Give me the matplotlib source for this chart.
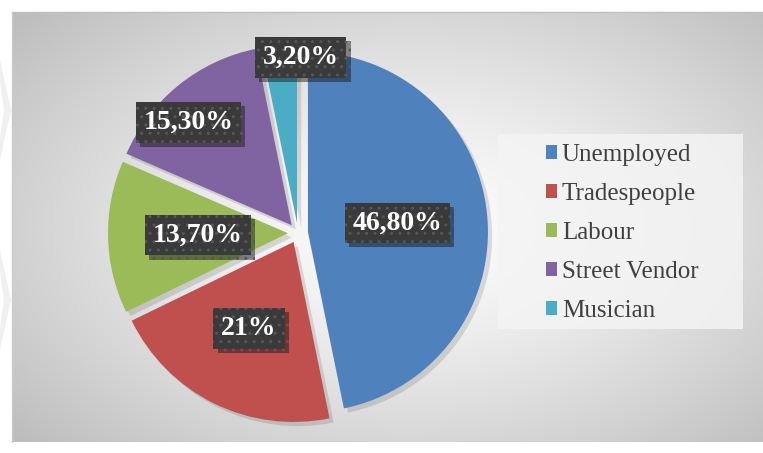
import numpy as np
import matplotlib
matplotlib.use("Agg")
import matplotlib.pyplot as plt
import matplotlib.patheffects as pe
from matplotlib.patches import Rectangle, Polygon

categories = ["Unemployed", "Tradespeople", "Labour", "Street Vendor", "Musician"]
shares = [46.8, 21.0, 13.7, 15.3, 3.2]
colors = ["#4f81bd", "#c0504d", "#9bbb59", "#8064a2", "#4bacc6"]

W, H = 763, 453


def fmt_pct(v):
    if float(v).is_integer():
        return "%d%%" % v
    return ("%.2f%%" % v).replace(".", ",")


def Y(y):
    # picture rows run downwards, axes y runs upwards
    return H - y


fig = plt.figure(figsize=(W / 100, H / 100), dpi=100)
ax = fig.add_axes([0, 0, 1, 1])

# faint watermark chevrons in the left margin
for y0 in [60, 250]:
    ax.add_patch(Polygon([(0, Y(y0)), (11, Y(y0 + 50)), (0, Y(y0 + 100)), (0, Y(y0 + 78)),
                          (4, Y(y0 + 50)), (0, Y(y0 + 22))], closed=True,
                         fc="#f0f0f0", ec="none", zorder=0))

# chart area background: elliptical radial gradient
x0, x1, y0, y1 = 12, 763, 12, 442
xs = np.linspace(x0, x1, 400)
ys = np.linspace(y0, y1, 240)
gx, gy = np.meshgrid(xs, ys)
cx, cy = 410, 228
n = np.sqrt(((gx - cx) / 360) ** 2 + ((gy - cy) / 215) ** 2)
v = np.clip(1 - 0.16 * n ** 1.25, 0, 1)
img = np.dstack([v, v, v])
ax.imshow(img, extent=(x0, x1, Y(y1), Y(y0)), origin="upper", aspect="auto", zorder=0.5)
ax.plot([x0, x1], [Y(y0), Y(y0)], color="#bfbfbf", lw=1, zorder=0.6)
ax.plot([x0, x0], [Y(y0), Y(y1)], color="#cccccc", lw=1, zorder=0.6)

# pie (explode is in data units here, i.e. pixels)
radius = 180
wedges, _ = ax.pie(shares, colors=colors, startangle=90, counterclock=False,
                   center=(298, Y(233)), radius=radius, explode=[10] * 5,
                   wedgeprops=dict(linewidth=0))
for w in wedges:
    w.set_zorder(2)
    w.set_path_effects([pe.SimplePatchShadow(offset=(3, -3), shadow_rgbFace="#000000", alpha=0.12),
                        pe.Normal()])

# data labels
label_r = [0.5, 0.54, 0.5, 0.81, 0.92]
label_nudge = [0, -1, 0, 6, -7]
for w, val, lr, nd in zip(wedges, shares, label_r, label_nudge):
    ang = np.deg2rad((w.theta1 + w.theta2) / 2 + nd)
    cxw, cyw = w.center
    tx = cxw + lr * radius * np.cos(ang)
    ty = cyw + lr * radius * np.sin(ang)
    t = ax.text(tx, ty, fmt_pct(val), ha="center", va="center", color="white",
                fontsize=20, fontweight="bold", family="Liberation Serif", zorder=5,
                bbox=dict(boxstyle="square,pad=0.28", fc="#3a3a3a", ec="#575757",
                          lw=0, hatch=".."))
    t.get_bbox_patch().set_path_effects([pe.SimplePatchShadow(offset=(3, -3), alpha=0.45),
                                         pe.Normal()])

# legend box
ax.add_patch(Rectangle((498, Y(329)), 245, 195, fc="#f4f4f4", ec="none", alpha=0.85, zorder=3))
leg = ax.legend(wedges, categories, loc="center left", bbox_to_anchor=(533 / W, 1 - 233 / H),
                frameon=False, prop=dict(family="Liberation Serif", size=18),
                labelcolor="#404040", handlelength=0.45, handleheight=0.45,
                handletextpad=0.2, labelspacing=0.68, borderpad=0)
leg.set_zorder(4)
for h in leg.legend_handles:
    h.set_path_effects([])

ax.set_xlim(0, W)
ax.set_ylim(0, H)
ax.set_aspect("auto")
ax.axis("off")

fig.savefig("out.png", dpi=100)
